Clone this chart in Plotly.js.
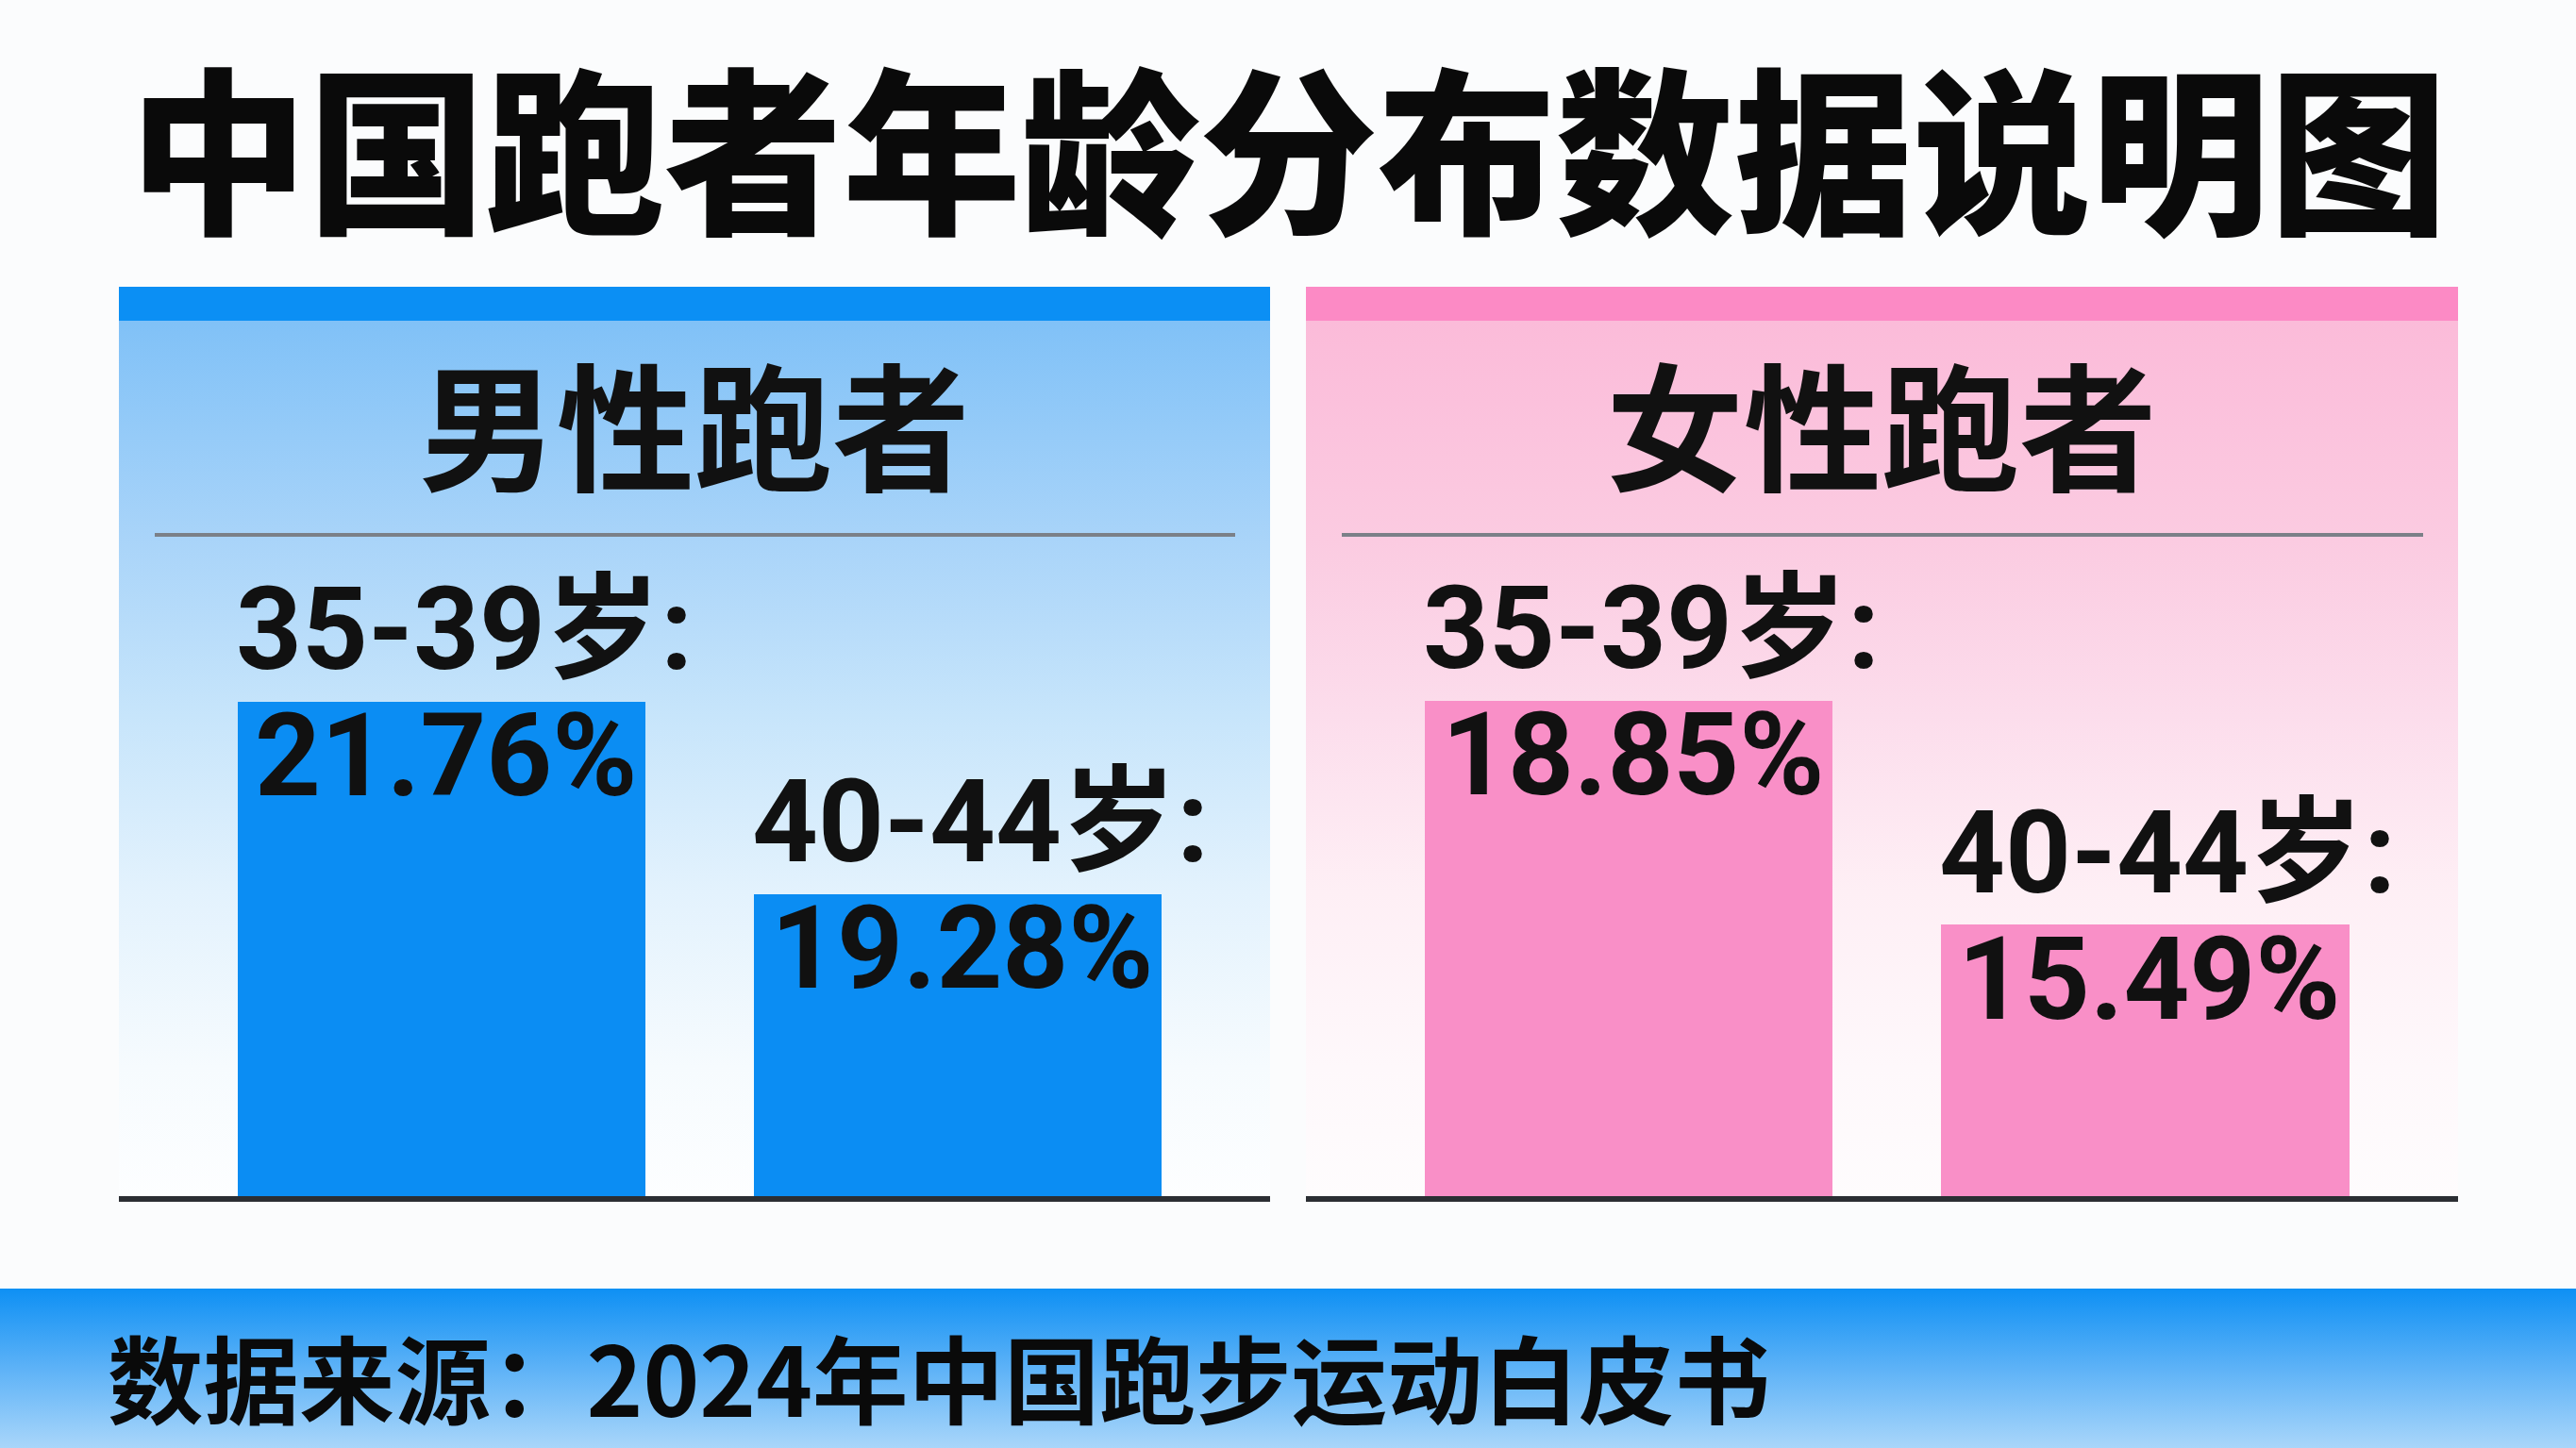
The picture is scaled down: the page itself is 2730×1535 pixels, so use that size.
<!DOCTYPE html>
<html>
<head>
<meta charset="utf-8">
<script src="https://cdn.plot.ly/plotly-3.0.1.min.js"></script>
<style>
  html, body { margin: 0; padding: 0; background: #FBFCFD; }
  #chart { width: 2730px; height: 1535px; }
</style>
</head>
<body>
<div id="chart"></div>
<script>
// ---------- data ----------
const chartTitle = '中国跑者年龄分布数据说明图';
const panelTitles = ['男性跑者', '女性跑者'];
const ageGroups = ['35-39岁', '40-44岁'];
const maleShare = [21.76, 19.28];
const femaleShare = [18.85, 15.49];
const sourceNote = '数据来源：2024年中国跑步运动白皮书';

// ---------- layout helpers ----------
const W = 2730, H = 1535;
const FONT = "'Noto Sans CJK SC', 'Noto Sans', sans-serif";
const NUM_FONT = "Roboto, 'Noto Sans CJK SC', sans-serif";
const px = v => v / W;            // pixel x -> paper
const py = v => 1 - v / H;        // pixel y (from top) -> paper
const BAR_W = 0.79;
const panels = [
  { left: 126, right: 1346, stripe: '#0B8FF4', bar: '#0B8DF3',
    stops: [['0', '#80C1F7'], ['0.25', '#A9D4F9'], ['0.45', '#C7E5FB'], ['0.65', '#E3F2FD'], ['0.85', '#F6FBFE'], ['1', '#FDFEFF']],
    yrange: [15.39, 26.67], values: maleShare },
  { left: 1384, right: 2605, stripe: '#FC8AC5', bar: '#F98FC7',
    stops: [['0', '#FBBBD9'], ['0.25', '#FBCBE1'], ['0.45', '#FCDDEC'], ['0.65', '#FEEFF5'], ['0.85', '#FEF8FB'], ['1', '#FEFCFD']],
    yrange: [11.41, 24.56], values: femaleShare }
];
const PANEL_TOP = 304, STRIPE_BOTTOM = 340, PLOT_TOP = 340, PLOT_BOTTOM = 1268;

function gradient(stops) {
  const s = stops.map(([o, c]) => `<stop offset="${o}" stop-color="${c}"/>`).join('');
  const svg = `<svg xmlns="http://www.w3.org/2000/svg" width="100" height="100" viewBox="0 0 100 100" preserveAspectRatio="none"><defs><linearGradient id="g" x1="0" y1="0" x2="0" y2="1">${s}</linearGradient></defs><rect width="100" height="100" fill="url(#g)"/></svg>`;
  return 'data:image/svg+xml;charset=utf-8,' + encodeURIComponent(svg);
}

const data = [];
const images = [];
const shapes = [];
const annotations = [];
const layoutAxes = {};

panels.forEach((p, k) => {
  const xa = k === 0 ? 'x' : 'x2';
  const ya = k === 0 ? 'y' : 'y2';
  const xName = k === 0 ? 'xaxis' : 'xaxis2';
  const yName = k === 0 ? 'yaxis' : 'yaxis2';

  data.push({
    type: 'bar', x: ageGroups, y: p.values, xaxis: xa, yaxis: ya,
    width: BAR_W, marker: { color: p.bar, line: { width: 0 } },
    hoverinfo: 'skip', showlegend: false
  });

  layoutAxes[xName] = {
    domain: [px(p.left), px(p.right)], type: 'category', range: [-0.625, 1.605],
    showticklabels: false, ticks: '', showgrid: false, zeroline: false,
    showline: true, linecolor: '#2B2E33', linewidth: 6, fixedrange: true, anchor: ya
  };
  layoutAxes[yName] = {
    domain: [py(PLOT_BOTTOM), py(PLOT_TOP)], range: p.yrange,
    showticklabels: false, ticks: '', showgrid: false, zeroline: false,
    showline: false, fixedrange: true, anchor: xa
  };

  // panel gradient background
  images.push({
    source: gradient(p.stops), xref: 'paper', yref: 'paper',
    x: px(p.left), y: py(STRIPE_BOTTOM), sizex: px(p.right - p.left),
    sizey: (PLOT_BOTTOM + 3 - STRIPE_BOTTOM) / H,
    xanchor: 'left', yanchor: 'top', sizing: 'stretch', layer: 'below'
  });
  // top stripe
  shapes.push({
    type: 'rect', xref: 'paper', yref: 'paper', layer: 'below',
    x0: px(p.left), x1: px(p.right), y0: py(STRIPE_BOTTOM), y1: py(PANEL_TOP),
    fillcolor: p.stripe, line: { width: 0 }
  });
  // separator under panel title
  shapes.push({
    type: 'line', xref: 'paper', yref: 'paper', layer: 'below',
    x0: px(p.left + 38), x1: px(p.right - 37), y0: py(567), y1: py(567),
    line: { color: '#7B8088', width: 4 }
  });
  // panel title
  annotations.push({
    xref: 'paper', yref: 'paper', x: px((p.left + p.right) / 2), y: py(446),
    xanchor: 'center', yanchor: 'middle', showarrow: false, text: panelTitles[k],
    font: { family: FONT, size: 146, color: '#111111', weight: 700 }
  });
  // bar labels
  p.values.forEach((v, i) => {
    annotations.push({
      xref: xa, yref: ya, x: i - BAR_W / 2, y: v, xanchor: 'left', yanchor: 'middle',
      xshift: -4, yshift: 76, showarrow: false, text: ageGroups[i] + ':',
      font: { family: NUM_FONT, size: 122, color: '#111111', weight: 700 }
    });
    annotations.push({
      xref: xa, yref: ya, x: i - BAR_W / 2, y: v, xanchor: 'left', yanchor: 'middle',
      xshift: 16, yshift: -58, showarrow: false, text: v.toFixed(2) + '%',
      font: { family: NUM_FONT, size: 122, color: '#111111', weight: 700 }
    });
  });
});

// footer band
images.push({
  source: gradient([['0', '#0E90F4'], ['0.5', '#5DB2F7'], ['1', '#A9D6FA']]),
  xref: 'paper', yref: 'paper', x: 0, y: py(1366), sizex: 1, sizey: (H - 1366) / H,
  xanchor: 'left', yanchor: 'top', sizing: 'stretch', layer: 'below'
});

// main title
annotations.push({
  xref: 'paper', yref: 'paper', x: 0.5, y: py(151), xanchor: 'center', yanchor: 'middle',
  showarrow: false, text: chartTitle,
  font: { family: FONT, size: 189, color: '#0A0A0A', weight: 900 }
});
// source note
annotations.push({
  xref: 'paper', yref: 'paper', x: px(112), y: py(1457), xanchor: 'left', yanchor: 'middle',
  showarrow: false, text: sourceNote,
  font: { family: FONT, size: 101.5, color: '#0A0A0A', weight: 700 }
});

const layout = Object.assign({
  width: W, height: H,
  margin: { l: 0, r: 0, t: 0, b: 0, pad: 0 },
  paper_bgcolor: '#FBFCFD', plot_bgcolor: 'rgba(0,0,0,0)',
  showlegend: false, bargap: 0,
  images: images, shapes: shapes, annotations: annotations,
  font: { family: FONT }
}, layoutAxes);

Plotly.newPlot('chart', data, layout, { staticPlot: true, displayModeBar: false });
</script>
</body>
</html>
